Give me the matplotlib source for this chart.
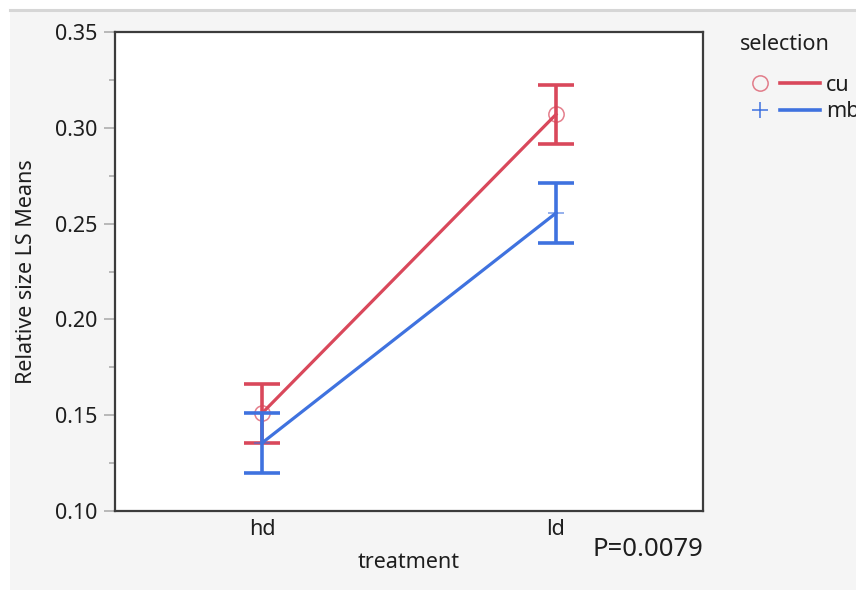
import numpy as np
import matplotlib.pyplot as plt
from matplotlib.lines import Line2D
from matplotlib.patches import Rectangle
from matplotlib.legend_handler import HandlerTuple

plt.rcParams['font.family'] = ['Noto Sans', 'DejaVu Sans']

# LS means (with error bars) of relative size by treatment and selection
treatments = ['hd', 'ld']
cu_mean = [0.151, 0.307]
cu_err = [0.0154, 0.0154]
mb_mean = [0.1355, 0.2555]
mb_err = [0.0155, 0.0156]
p_value = 'P=0.0079'

red = '#d9485b'
blue = '#3f72df'
txt = '#1e1e1e'
fs = 15.5

W, H = 856, 590
fig = plt.figure(figsize=(W / 100, H / 100), dpi=100)
fig.patch.set_facecolor('white')

# grey report panel with a thin border on top
fig.add_artist(Rectangle((10 / W, 0), 1, 579 / H, transform=fig.transFigure,
                         facecolor='#f5f5f5', edgecolor='none', zorder=-10))
fig.add_artist(Line2D([10 / W, 1], [580 / H, 580 / H], transform=fig.transFigure,
                      color='#d6d6d6', lw=2.2, zorder=-9))

ax = fig.add_axes([115 / W, 79 / H, 588 / W, 479 / H])
ax.set_facecolor('white')
x = np.arange(len(treatments))

for mean, err, col, mk, ms, z in [(cu_mean, cu_err, red, 'o', 11, 3),
                                  (mb_mean, mb_err, blue, '+', 12, 4)]:
    ax.plot(x, mean, color=col, lw=2.3, zorder=z)
    ax.errorbar(x, mean, yerr=err, fmt='none', ecolor=col, elinewidth=2.6,
                capsize=13, capthick=2.6, zorder=z)
    ax.plot(x, mean, ls='none', marker=mk, ms=ms, mfc='none', mec=col,
            mew=1.1, alpha=0.7, zorder=z + 0.5)

ax.set_xlim(-0.5, 1.5)
ax.set_ylim(0.10, 0.35)
ax.set_xticks(x)
ax.set_xticklabels(treatments)
ax.set_yticks(np.arange(0.10, 0.351, 0.05))
ax.set_yticks(np.arange(0.125, 0.35, 0.05), minor=True)
ax.yaxis.set_major_formatter(plt.FormatStrFormatter('%.2f'))
ax.tick_params(axis='y', which='major', length=8, width=1.1, color='#a8a8a8',
               labelsize=fs, labelcolor=txt, pad=4.5)
ax.tick_params(axis='y', which='minor', length=4, width=1.1, color='#a8a8a8')
ax.tick_params(axis='x', length=0, labelsize=fs, labelcolor=txt, pad=5.5)
for s in ax.spines.values():
    s.set_color('#3c3c3c')
    s.set_linewidth(1.6)

ax.set_xlabel('treatment', fontsize=fs, color=txt, labelpad=9)
ax.set_ylabel('Relative size LS Means', fontsize=fs, color=txt, labelpad=13)
fig.text(703 / W, 1 - 550 / H, p_value, fontsize=18.5, color=txt,
         ha='right', va='center')

# legend: title, then marker + line swatch for each selection line
fig.text(740 / W, 1 - 44 / H, 'selection', fontsize=fs, color=txt,
         ha='left', va='center')
h_cu = (Line2D([], [], ls='none', marker='o', ms=11, mfc='none', mec=red, mew=1.1, alpha=0.7),
        Line2D([], [], color=red, lw=2.6))
h_mb = (Line2D([], [], ls='none', marker='+', ms=12, mec=blue, mew=1.1),
        Line2D([], [], color=blue, lw=2.6))
leg = fig.legend([h_cu, h_mb], ['cu', 'mb'],
                 handler_map={tuple: HandlerTuple(ndivide=None, pad=0)},
                 loc='upper left', bbox_to_anchor=(740 / W, 1 - 75 / H),
                 frameon=False, fontsize=fs,
                 handlelength=3.7, handletextpad=0.3, labelspacing=0.25,
                 borderaxespad=0, borderpad=0)
for t in leg.get_texts():
    t.set_color(txt)

fig.savefig('out.png', dpi=100)
